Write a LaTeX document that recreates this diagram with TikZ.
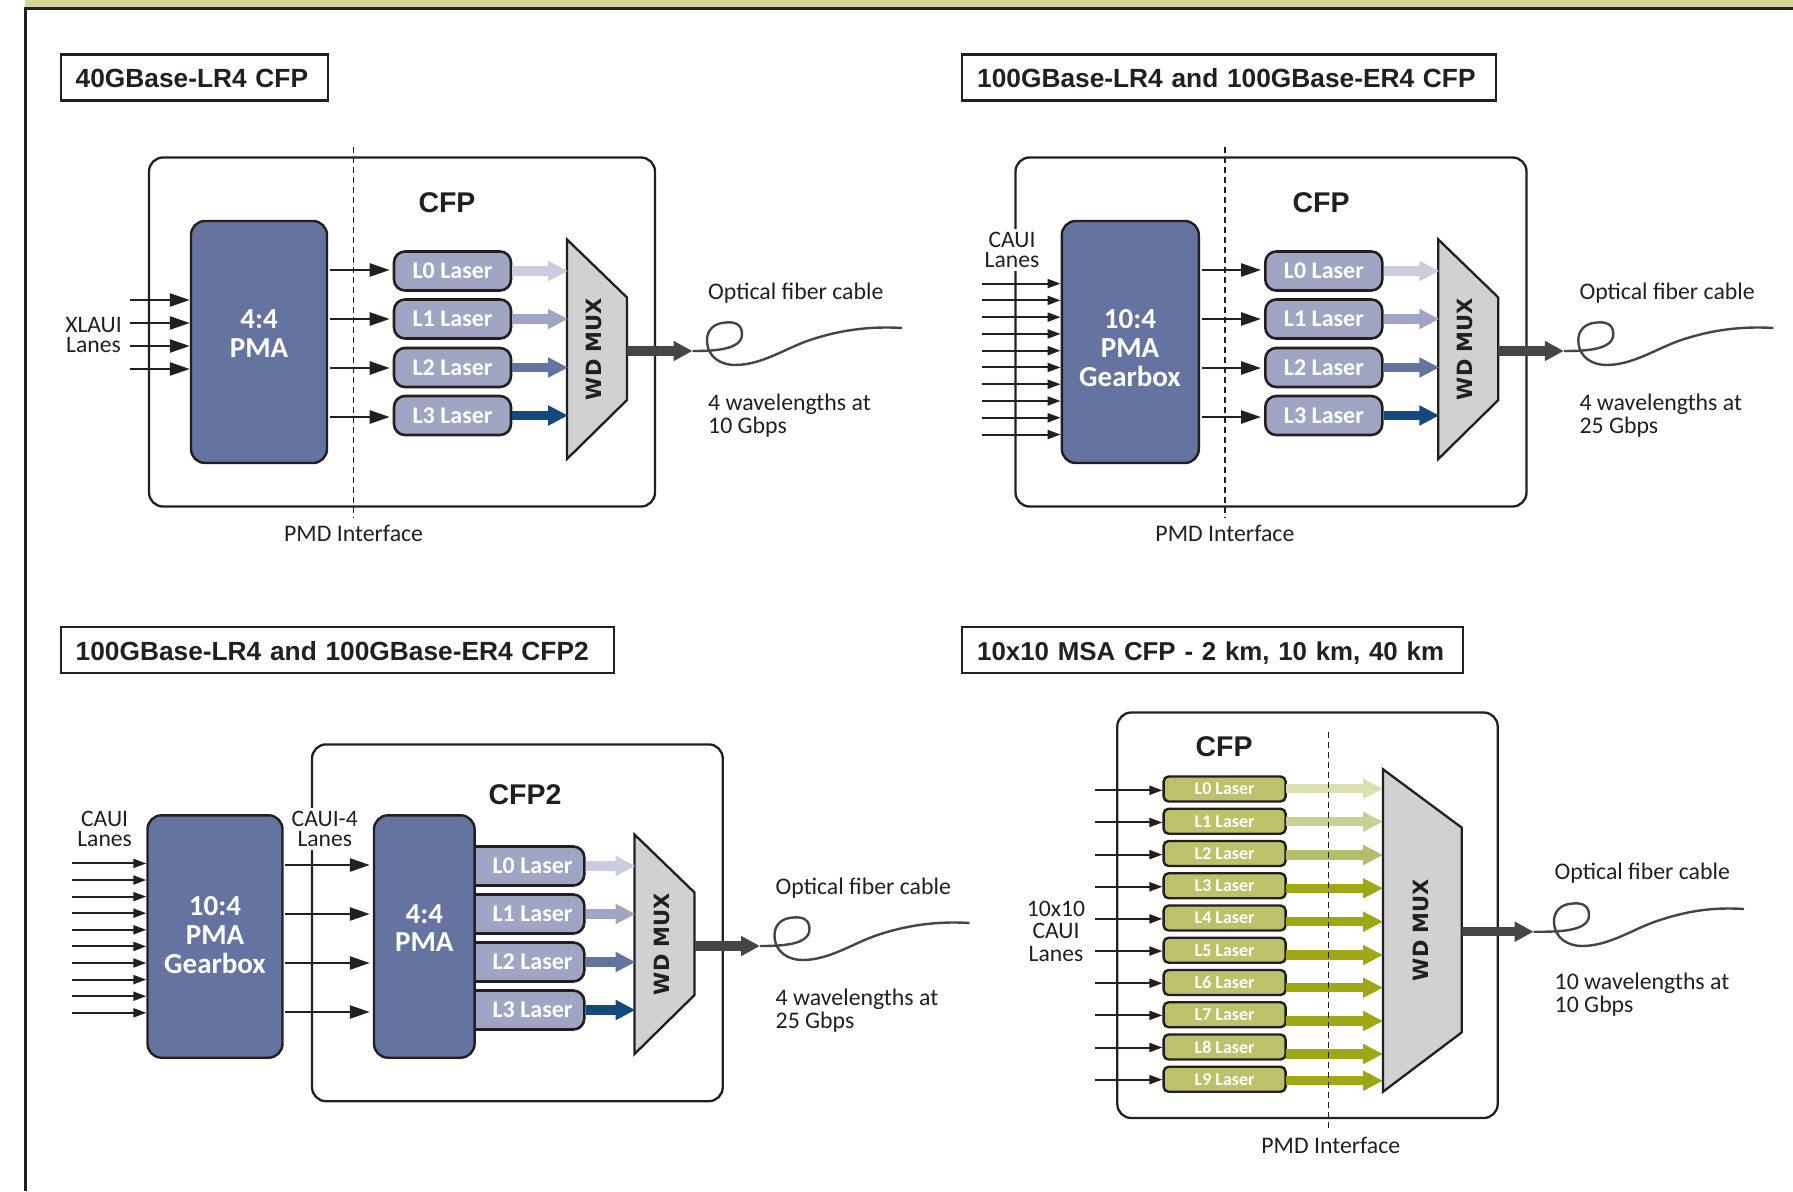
\documentclass[tikz,border=0pt]{standalone}
\usepackage{fontspec}
\setmainfont{Carlito}
\newfontfamily\headfont{Liberation Sans}
\newfontfamily\muxfont{DejaVu Sans}
\usetikzlibrary{arrows.meta}
\definecolor{ink}{HTML}{231F20}
\definecolor{band}{HTML}{D3D59A}
\definecolor{pmablue}{HTML}{64739F}
\definecolor{laserblue}{HTML}{9FA5C2}
\definecolor{arrA}{HTML}{CACDE0}
\definecolor{arrB}{HTML}{9FA5C2}
\definecolor{arrC}{HTML}{64739F}
\definecolor{arrD}{HTML}{14497F}
\definecolor{lasergreen}{HTML}{BCC16A}
\definecolor{grA}{HTML}{DCE0B0}
\definecolor{grB}{HTML}{C9D095}
\definecolor{grC}{HTML}{B3BD6A}
\definecolor{grD}{HTML}{9EA815}
\definecolor{muxgrey}{HTML}{CFD1D3}
\definecolor{outgrey}{HTML}{454545}
\tikzset{
  titlebox/.style={draw=ink,line width=2.4pt,fill=white,inner ysep=0pt,inner xsep=15pt,minimum height=46pt,align=left,
    text height=21pt,text depth=0pt,
    font=\headfont\bfseries\fontsize{26.3}{28}\selectfont,text=ink},
  cfpbox/.style={draw=ink,line width=2.3pt,rounded corners=14pt,fill=white,inner sep=0pt},
  cfplabel/.style={font=\headfont\bfseries\fontsize{28.5}{30}\selectfont,text=ink,inner sep=0pt},
  pmabox/.style={draw=ink,line width=2.4pt,rounded corners=14pt,fill=pmablue,inner sep=0pt},
  pmalabel/.style={font=\bfseries\fontsize{29}{28.6}\selectfont,text=white,align=center,inner sep=0pt},
  laserbox/.style={draw=ink,line width=2.6pt,rounded corners=11pt,fill=laserblue,inner sep=0pt,minimum height=39pt},
  laserlabel/.style={font=\bfseries\fontsize{24}{26}\selectfont,text=white,inner sep=0pt},
  greenbox/.style={draw=ink,line width=2.4pt,rounded corners=5pt,fill=lasergreen,inner sep=0pt,minimum height=25pt,minimum width=122pt,
    font=\bfseries\fontsize{18}{20}\selectfont,text=white},
  plain/.style={font=\fontsize{23.8}{23}\selectfont,text=ink,inner sep=0pt,align=center},
  lanes/.style={font=\fontsize{23.6}{20.6}\selectfont,text=ink,align=center,inner sep=0pt},
  lanesgap/.style={lanes,fill=white,inner sep=3pt},
  muxshape/.style={draw=ink,line width=2.3pt,fill=muxgrey,line join=miter},
  muxlabel/.style={font=\muxfont\bfseries\fontsize{21}{22}\selectfont,text=ink,rotate=90,inner sep=0pt},
  bigline/.style={draw=ink,line width=2.6pt,-{Triangle[length=20pt,width=13pt]}},
  smallline/.style={draw=ink,line width=2pt,-{Triangle[length=13pt,width=9pt]}},
  block/.style={line width=9.5pt,-{Triangle[length=20pt,width=19pt]}},
  fiberline/.style={draw=outgrey,line width=2.4pt},
  pmddash/.style={draw=ink,line width=1.2pt,dash pattern=on 6pt off 4pt},
}
% name, cx, cy, text (4-channel laser)
\newcommand{\lasernode}[4]{\node[laserbox,minimum width=117pt] (#1) at (#2,#3) {};
  \node[laserlabel] (#1t) at (#2,#3) {#4};}
% prefix, dx, dy, rate text
\newcommand{\muxgroup}[4]{%
  \begin{scope}[shift={(#2,#3)}]
    \coordinate (#1w) at (568,348);
    \coordinate (#1e) at (627,351);
    \draw[muxshape] (567,239.5) -- (627,297.5) -- (627,400) -- (567,459) -- cycle;
    \node[muxlabel] (#1mux) at (594,349) {WD MUX};
    \coordinate (#1tip) at (692.5,351);
    \draw[block,color=outgrey,-{Triangle[length=19pt,width=19pt]}] (#1e) -- (#1tip);
    \draw[fiberline] (#1tip) .. controls (714,351) and (742,350) .. (742,334)
      .. controls (742,322) and (731,322) .. (726,322.5)
      .. controls (713,323) and (707,331) .. (707,340)
      .. controls (707,358) and (722,365) .. (735,365)
      .. controls (762,365) and (786,348) .. (810,340)
      .. controls (840,330) and (870,326) .. (902,328);
    \node[plain,anchor=west] (#1opt) at (708,293) {Optical fiber cable};
    \node[plain,anchor=north west,align=left] (#1rate) at (708,394) {#4};
  \end{scope}}
\begin{document}
\begin{tikzpicture}[x=1pt,y=-1pt]
\useasboundingbox (0,0) rectangle (1793,1191);
\fill[white] (0,0) rectangle (1793,1191);
% page frame
\fill[band] (25,0) rectangle (1793,8);
\draw[ink,line width=3pt] (25,1191) -- (25,8) -- (1793,8);

% ---------- titles
\node[titlebox,anchor=west,text width=237pt] (t1) at (59.5,77.3) {\mbox{40GBase-LR4 CFP}};
\node[titlebox,anchor=west,text width=504pt] (t2) at (961,77.3) {\mbox{100GBase-LR4 and 100GBase-ER4 CFP}};
\node[titlebox,anchor=west,text width=523pt] (t3) at (59.5,650) {\mbox{100GBase-LR4 and 100GBase-ER4 CFP2}};
\node[titlebox,anchor=west,text width=471pt] (t4) at (961,650) {\mbox{\fontsize{25.85}{28}\selectfont 10x10 MSA CFP - 2 km, 10 km, 40 km}};

% ---------- panel 1
\node[cfpbox,minimum width=506pt,minimum height=349pt] (c1) at (402,332) {};
\node[cfplabel] (c1t) at (447,203) {CFP};
\node[pmabox,minimum width=136pt,minimum height=242pt] (p1) at (259,342) {};
\node[pmalabel] (p1t) at (259,333.5) {4:4\\PMA};
\lasernode{a0}{452.5}{271}{L0 Laser}
\lasernode{a1}{452.5}{319}{L1 Laser}
\lasernode{a2}{452.5}{367.5}{L2 Laser}
\lasernode{a3}{452.5}{415.5}{L3 Laser}
\muxgroup{ma}{0}{0}{4 wavelengths at\\10 Gbps}
\foreach \i/\c/\s in {0/arrA/1,1/arrB/0,2/arrC/-0.5,3/arrD/-1.5}{
  \draw[bigline] ([xshift=2pt,yshift=\s pt]p1.east |- a\i.west) -- ([xshift=-3pt,yshift=\s pt]a\i.west);
  \draw[block,color=\c] (a\i.east) -- (a\i.east -| maw);
}
\foreach \y in {300,323,346,369}{
  \coordinate (xl\y) at (130,\y);
  \draw[bigline] (xl\y) -- (xl\y -| p1.west);
}
\node[lanes,anchor=east] (xl) at (122,335) {XLAUI\\Lanes};
\coordinate (d1a) at (353.6,147);
\node[plain] (pmd1) at (353.6,533) {PMD Interface};
\draw[pmddash] (d1a) -- ([yshift=7pt]pmd1.north);

% ---------- panel 2
\node[cfpbox,minimum width=511pt,minimum height=349pt] (c2) at (1271,332) {};
\node[cfplabel] (c2t) at (1321,203) {CFP};
\node[pmabox,minimum width=137pt,minimum height=242pt] (p2) at (1130.3,342) {};
\node[pmalabel] (p2t) at (1130,348) {10:4\\PMA\\Gearbox};
\lasernode{b0}{1323.8}{271}{L0 Laser}
\lasernode{b1}{1323.8}{319}{L1 Laser}
\lasernode{b2}{1323.8}{367.5}{L2 Laser}
\lasernode{b3}{1323.8}{415.5}{L3 Laser}
\muxgroup{mb}{871.3}{0}{4 wavelengths at\\25 Gbps}
\foreach \i/\c/\s in {0/arrA/1,1/arrB/0,2/arrC/-0.5,3/arrD/-1.5}{
  \draw[bigline] ([xshift=2pt,yshift=\s pt]p2.east |- b\i.west) -- ([xshift=-3pt,yshift=\s pt]b\i.west);
  \draw[block,color=\c] (b\i.east) -- (b\i.east -| mbw);
}
\foreach \i in {0,...,9}{
  \coordinate (cl\i) at (982,283.6+16.77*\i);
  \draw[smallline] (cl\i) -- (cl\i -| p2.west);
}
\node[lanesgap] (cl) at (1012,250) {CAUI\\Lanes};
\coordinate (d2a) at (1224.9,147);
\node[plain] (pmd2) at (1224.9,533) {PMD Interface};
\draw[pmddash] (d2a) -- ([yshift=7pt]pmd2.north);

% ---------- panel 3
\node[cfpbox,minimum width=410.7pt,minimum height=356.8pt] (c3) at (517.4,922.8) {};
\node[cfplabel] (c3t) at (525,795) {CFP2};
\foreach \i/\y/\n in {0/866/L0,1/914/L1,2/962/L2,3/1010/L3}{
  \node[laserbox,minimum width=124pt] (g\i) at (522.3,\y) {};
  \node[laserlabel] (g\i t) at (532.5,\y) {\n\ Laser};
}
\node[pmabox,minimum width=100.6pt,minimum height=242.4pt] (p3) at (424.3,936.5) {};
\node[pmalabel] (p3t) at (424.3,928) {4:4\\PMA};
\node[pmabox,minimum width=135pt,minimum height=242.4pt] (gb) at (215,936.5) {};
\node[pmalabel] (gbt) at (215,935) {10:4\\PMA\\Gearbox};
\muxgroup{mc}{67.5}{595}{4 wavelengths at\\25 Gbps}
\foreach \i/\c/\s in {0/arrA/1,1/arrB/0,2/arrC/-1,3/arrD/-2}{
  \draw[block,color=\c] (g\i.east) -- (g\i.east -| mcw);
  \draw[bigline] ([xshift=1.5pt,yshift=\s pt]gb.east |- g\i.west) -- ([xshift=-3pt,yshift=\s pt]p3.west |- g\i.west);
}
\foreach \i in {0,...,9}{
  \coordinate (dl\i) at (72,863.4+16.6*\i);
  \draw[smallline] (dl\i) -- (dl\i -| gb.west);
}
\node[lanes] (dl) at (104.6,829) {CAUI\\Lanes};
\node[lanesgap] (el) at (324.8,829) {CAUI-4\\Lanes};

% ---------- panel 4
\node[cfpbox,minimum width=380.4pt,minimum height=405.5pt] (c4) at (1307.5,915.25) {};
\node[cfplabel] (c4t) at (1224,746.7) {CFP};
\coordinate (hw) at (1383,930);
\foreach \i/\c/\oy in {0/grA/788.7,1/grB/821.7,2/grC/855,3/grD/888.3,4/grD/921.7,5/grD/955,6/grD/987.7,7/grD/1021,8/grD/1054,9/grD/1080.7}{
  \node[greenbox] (h\i) at (1224.6,789+32.25*\i) {L\i\ Laser};
  \coordinate (hi\i) at (1095,790.3+32.15*\i);
  \draw[smallline] (hi\i) -- (hi\i -| h\i.west);
  \coordinate (ho\i) at (1286.3,\oy);
  \draw[block,color=\c] (ho\i) -- (ho\i -| hw);
}
\draw[muxshape] (1383,769.3) -- (1461.8,827.7) -- (1461.8,1032.3) -- (1383,1091.7) -- cycle;
\node[muxlabel] (hmux) at (1420.8,930) {WD MUX};
\coordinate (he) at (1461.8,931.7);
\coordinate (htip) at (1533.6,931.7);
\draw[block,color=outgrey,-{Triangle[length=19pt,width=19pt]}] (he) -- (htip);
\begin{scope}[shift={(847,581)}]
  \draw[fiberline] (htip) .. controls (714,351) and (742,350) .. (742,334)
      .. controls (742,322) and (731,322) .. (726,322.5)
      .. controls (713,323) and (707,331) .. (707,340)
      .. controls (707,358) and (722,365) .. (735,365)
      .. controls (762,365) and (786,348) .. (810,340)
      .. controls (840,330) and (865,326) .. (897,328);
\end{scope}
\node[plain,anchor=west] (hopt) at (1554.5,873.5) {Optical fiber cable};
\node[plain,anchor=north west,align=left] (hrate) at (1554.5,973) {10 wavelengths at\\10 Gbps};
\node[lanes,font=\fontsize{23.6}{22.5}\selectfont] (hl) at (1056,931) {10x10\\CAUI\\Lanes};
\coordinate (d4a) at (1328.3,731.7);
\node[plain] (pmd4) at (1330.8,1145.7) {PMD Interface};
\draw[pmddash] (d4a) -- (d4a |- 0,1130.7);
\end{tikzpicture}
\end{document}
